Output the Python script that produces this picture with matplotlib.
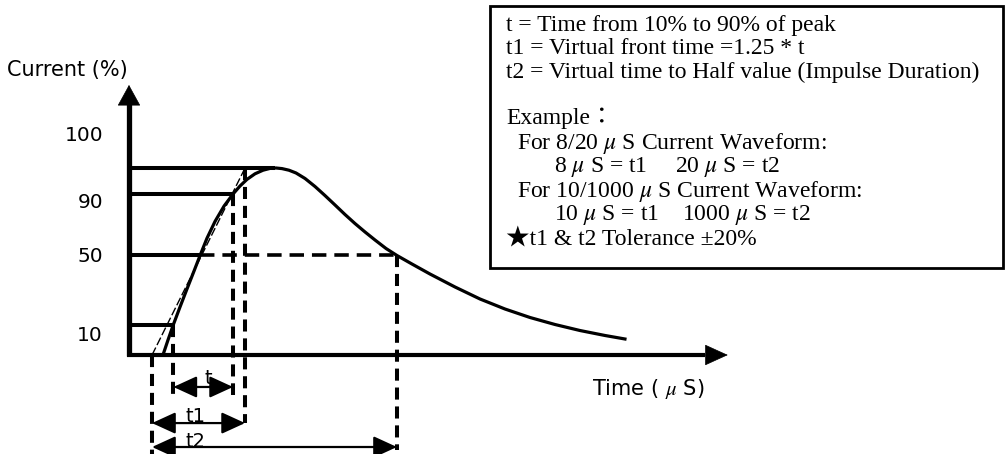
import numpy as np
import matplotlib
matplotlib.use("Agg")
from matplotlib import pyplot as plt
from matplotlib.patches import Rectangle

plt.rcParams['mathtext.fontset'] = 'stix'

# 파형 곡선 (시간 단위, 피크 대비 전류 %)
curve_t = [2.83, 3.25, 3.67, 4.25, 4.83, 5.42, 5.92, 6.5, 7.17, 7.92, 8.67, 9.25, 9.83,
           10.5, 11.17, 11.75, 12.25, 12.75, 13.33, 13.92, 14.67, 15.5, 16.33, 17.17,
           18.0, 18.83, 19.67, 20.5, 21.42, 22.33, 23.58, 25.08, 27.17, 29.25, 31.33,
           33.42, 35.5, 37.58, 39.67, 41.33]
curve_i = [0.0, 8.02, 15.78, 25.67, 35.29, 44.92, 53.21, 62.46, 71.44, 79.63, 86.1, 90.37,
           93.9, 96.9, 98.82, 99.79, 100.0, 99.68, 98.82, 97.33, 94.39, 90.11, 85.29, 80.21,
           75.13, 70.32, 65.78, 61.5, 56.95, 53.21, 48.66, 43.32, 36.36, 29.95, 24.6,
           20.05, 16.31, 13.1, 10.43, 8.56]

# 기준 레벨 (그림에서 읽은 위치)
lv_peak, lv_90, lv_50, lv_10 = 100.0, 86.1, 53.5, 16.0
level_labels = ["100", "90", "50", "10"]
level_label_y = [117.6, 81.3, 52.9, 10.2]

# 주요 시간 지점
t_o1 = 1.92     # 가상 원점
t_10 = 3.7
t_90 = 8.67
t_1 = 9.67      # t1 끝
t_pk = 12.17
t_2 = 22.33     # t2 끝

box_lines = [
    "t = Time from 10% to 90% of peak",
    "t1 = Virtual front time =1.25 * t",
    "t2 = Virtual time to Half value (Impulse Duration)",
    "Example\uff1a",
    "For 8/20 $\\mu$ S Current Waveform:",
    "For 10/1000 $\\mu$ S Current Waveform:",
    "\u2605t1 & t2 Tolerance \u00b120%",
]

fig = plt.figure(figsize=(10.05, 4.54), dpi=100)
ax = fig.add_axes([0, 0, 1, 1])
ax.set_xlim(-10.75, 73.0)
ax.set_ylim(-52.94, 189.84)
ax.axis('off')

K = 'black'
# 축
ax.plot([0, 0], [-0.5, 140], color=K, lw=3.8, solid_capstyle='butt')
ax.plot([-0.15, 48], [0, 0], color=K, lw=3.0, solid_capstyle='butt')
ax.annotate('', xy=(0, 144.4), xytext=(0, 130),
            arrowprops=dict(arrowstyle='-|>,head_length=1.0,head_width=0.55',
                            mutation_scale=14, color=K, lw=0.5,
                            shrinkA=0, shrinkB=0))
ax.annotate('', xy=(49.9, 0), xytext=(46, 0),
            arrowprops=dict(arrowstyle='-|>,head_length=1.1,head_width=0.5',
                            mutation_scale=14, color=K, lw=0.5,
                            shrinkA=0, shrinkB=0))

# 수평 레벨 선
lw_lv = 2.9
ax.plot([0, t_pk], [lv_peak, lv_peak], color=K, lw=lw_lv, solid_capstyle='butt')
ax.plot([0, t_90], [lv_90, lv_90], color=K, lw=lw_lv, solid_capstyle='butt')
ax.plot([0, 5.92], [lv_50, lv_50], color=K, lw=lw_lv, solid_capstyle='butt')
ax.plot([5.92, t_2], [lv_50, lv_50], color=K, lw=2.6, dashes=(4.0, 2.2))
ax.plot([0, t_10], [lv_10, lv_10], color=K, lw=lw_lv, solid_capstyle='butt')

# 파형
ax.plot(curve_t, curve_i, color=K, lw=2.3, solid_joinstyle='round')
# 가상 전면 직선
ax.plot([t_o1, t_1], [0, lv_peak], color=K, lw=1.0, dashes=(6, 2))

# 점선 수직선
dash = dict(color=K, lw=2.9, dashes=(3.0, 1.7))
ax.plot([t_o1, t_o1], [0, -53], **dash)
ax.plot([t_10, t_10], [lv_10, -21.4], **dash)
ax.plot([t_90, t_90], [lv_90, -21.4], **dash)
ax.plot([t_1, t_1], [lv_peak, -36.4], **dash)
ax.plot([t_2, t_2], [lv_50, -50.8], **dash)

# 시간 화살표
arr = dict(arrowstyle='<|-|>,head_length=1.2,head_width=0.55', mutation_scale=12,
           color=K, lw=1.6, shrinkA=0, shrinkB=0)
ax.annotate('', xy=(t_90, -17.1), xytext=(t_10, -17.1), arrowprops=arr)
ax.annotate('', xy=(t_1, -36.4), xytext=(t_o1, -36.4), arrowprops=arr)
ax.annotate('', xy=(t_2, -49.2), xytext=(t_o1, -49.2), arrowprops=arr)
ax.text(6.58, -12.3, "t", fontsize=14, ha='center', va='center', family='DejaVu Sans')
ax.text(5.5, -33.0, "t1", fontsize=14, ha='center', va='center', family='DejaVu Sans')
ax.text(5.5, -46.5, "t2", fontsize=14, ha='center', va='center', family='DejaVu Sans')

# 축 라벨
ax.text(-10.17, 152.4, "Current (%)", fontsize=15, ha='left', va='center', family='DejaVu Sans')
for lab, yy in zip(level_labels, level_label_y):
    ax.text(-2.17, yy, lab, fontsize=14.5, ha='right', va='center', family='DejaVu Sans')
ax.text(38.58, -18.2, "Time ( $\\mu$ S)", fontsize=15, ha='left', va='center', family='DejaVu Sans')

# 설명 박스
fig.patches.append(Rectangle((490 / 1005, 1 - 268 / 454), 513 / 1005, 262 / 454,
                             transform=fig.transFigure, fill=False, ec=K, lw=2.0))
rows = [(506, 25, box_lines[0]), (506, 48, box_lines[1]), (506, 72, box_lines[2]),
        (506, 118, box_lines[3]), (517, 143, box_lines[4]),
        (554, 167, "8 $\\mu$ S = t1"), (675, 167, "20 $\\mu$ S = t2"),
        (517, 192, box_lines[5]),
        (554, 215, "10 $\\mu$ S = t1"), (682, 215, "1000 $\\mu$ S = t2"),
        (506, 239, box_lines[6])]
for px, py, s in rows:
    fig.text(px / 1005, 1 - py / 454, s, fontsize=17, ha='left', va='center',
             family=['Liberation Serif', 'Noto Sans CJK JP', 'DejaVu Sans'])

fig.savefig("out.png", dpi=100)
